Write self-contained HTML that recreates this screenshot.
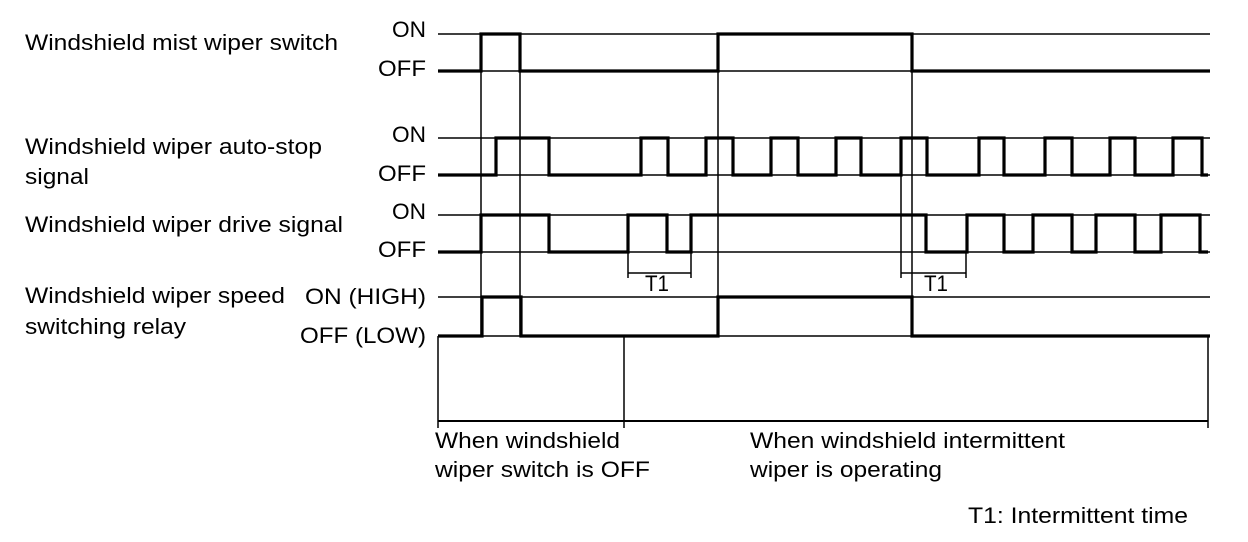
<!DOCTYPE html>
<html><head><meta charset="utf-8"><style>
html,body{margin:0;padding:0;background:#fff;}
svg{display:block;}
text{font-family:"Liberation Sans",Arial,sans-serif;font-size:22px;fill:#000;}
</style></head><body>
<svg width="1248" height="542" viewBox="0 0 1248 542" xmlns="http://www.w3.org/2000/svg">
<g lengthAdjust="spacingAndGlyphs">
<text x="25" y="50" textLength="313" lengthAdjust="spacingAndGlyphs">Windshield mist wiper switch</text>
<text x="25" y="154" textLength="297" lengthAdjust="spacingAndGlyphs">Windshield wiper auto-stop</text>
<text x="25" y="184" textLength="64" lengthAdjust="spacingAndGlyphs">signal</text>
<text x="25" y="232" textLength="318" lengthAdjust="spacingAndGlyphs">Windshield wiper drive signal</text>
<text x="25" y="303" textLength="260" lengthAdjust="spacingAndGlyphs">Windshield wiper speed</text>
<text x="25" y="334" textLength="161" lengthAdjust="spacingAndGlyphs">switching relay</text>
<text x="392" y="37" textLength="34" lengthAdjust="spacingAndGlyphs">ON</text>
<text x="378" y="76" textLength="48" lengthAdjust="spacingAndGlyphs">OFF</text>
<text x="392" y="142" textLength="34" lengthAdjust="spacingAndGlyphs">ON</text>
<text x="378" y="181" textLength="48" lengthAdjust="spacingAndGlyphs">OFF</text>
<text x="392" y="219" textLength="34" lengthAdjust="spacingAndGlyphs">ON</text>
<text x="378" y="257" textLength="48" lengthAdjust="spacingAndGlyphs">OFF</text>
<text x="305" y="304" textLength="121" lengthAdjust="spacingAndGlyphs">ON (HIGH)</text>
<text x="300" y="343" textLength="126" lengthAdjust="spacingAndGlyphs">OFF (LOW)</text>
<text x="435" y="448" textLength="185" lengthAdjust="spacingAndGlyphs">When windshield</text>
<text x="435" y="477" textLength="215" lengthAdjust="spacingAndGlyphs">wiper switch is OFF</text>
<text x="750" y="448" textLength="315" lengthAdjust="spacingAndGlyphs">When windshield intermittent</text>
<text x="750" y="477" textLength="192" lengthAdjust="spacingAndGlyphs">wiper is operating</text>
<text x="968" y="523" textLength="220" lengthAdjust="spacingAndGlyphs">T1: Intermittent time</text>
<text x="645" y="291" font-size="19" textLength="24" lengthAdjust="spacingAndGlyphs">T1</text>
<text x="924" y="291" font-size="19" textLength="24" lengthAdjust="spacingAndGlyphs">T1</text>
</g>
<g stroke="#000" stroke-width="1.5" fill="none">
<line x1="438" y1="34" x2="1210" y2="34"/>
<line x1="438" y1="71" x2="1210" y2="71"/>
<line x1="438" y1="138" x2="1210" y2="138"/>
<line x1="438" y1="175" x2="1210" y2="175"/>
<line x1="438" y1="215" x2="1210" y2="215"/>
<line x1="438" y1="252" x2="1210" y2="252"/>
<line x1="438" y1="297" x2="1210" y2="297"/>
<line x1="438" y1="336" x2="1210" y2="336"/>
<line x1="481" y1="34" x2="481" y2="336"/>
<line x1="520" y1="34" x2="520" y2="336"/>
<line x1="718" y1="34" x2="718" y2="336"/>
<line x1="912" y1="34" x2="912" y2="336"/>
<line x1="901" y1="138" x2="901" y2="278"/>
<line x1="966" y1="252" x2="966" y2="278"/>
<line x1="628" y1="252" x2="628" y2="278"/>
<line x1="691" y1="252" x2="691" y2="278"/>
<line x1="628" y1="273" x2="691" y2="273"/>
<line x1="901" y1="273" x2="966" y2="273"/>
<line x1="438" y1="336" x2="438" y2="428"/>
<line x1="624" y1="336" x2="624" y2="428"/>
<line x1="1208" y1="336" x2="1208" y2="428"/>
<line x1="438" y1="421" x2="1208" y2="421" stroke-width="2"/>
</g>
<g stroke="#000" stroke-width="3.2" fill="none" stroke-linejoin="miter">
<polyline points="438,71 481,71 481,34 520,34 520,71 718,71 718,34 912,34 912,71 1210,71"/>
<polyline points="438,175 496,175 496,138 549,138 549,175 641,175 641,138 668,138 668,175 706,175 706,138 733,138 733,175 771,175 771,138 798,138 798,175 836,175 836,138 861,138 861,175 901,175 901,138 927,138 927,175 979,175 979,138 1004,138 1004,175 1045,175 1045,138 1072,138 1072,175 1110,175 1110,138 1135,138 1135,175 1173,175 1173,138 1202,138 1202,175 1208,175"/>
<polyline points="438,252 481,252 481,215 549,215 549,252 628,252 628,215 667,215 667,252 691,252 691,215 926,215 926,252 967,252 967,215 1004,215 1004,252 1033,252 1033,215 1072,215 1072,252 1096,252 1096,215 1135,215 1135,252 1161,252 1161,215 1200,215 1200,252 1208,252"/>
<polyline points="438,336 482,336 482,297 521,297 521,336 718,336 718,297 912,297 912,336 1210,336"/>
</g>
</svg>
</body></html>
